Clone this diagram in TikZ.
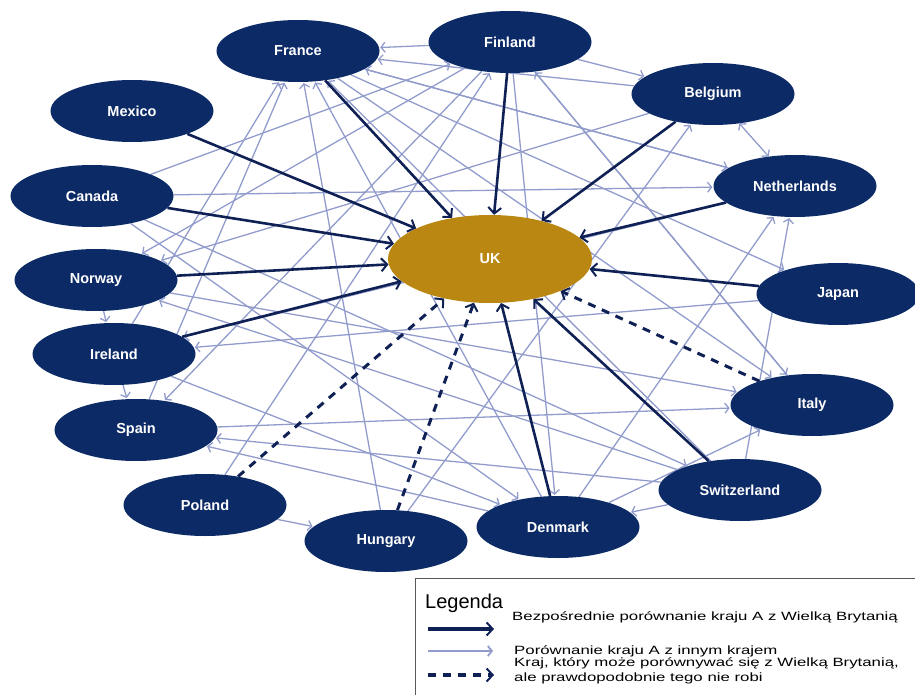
\documentclass[tikz,border=0pt]{standalone}
\usepackage{fontspec}
\setmainfont{Liberation Sans}
\setsansfont{Liberation Sans}
\newfontfamily\legendfont[FakeStretch=1.4]{Liberation Sans}
\usepackage{tikz}
\usetikzlibrary{shapes.geometric, arrows.meta, positioning}
\usepackage{xcolor}
\definecolor{navy}{RGB}{12,42,102}
\definecolor{gold}{RGB}{186,136,18}
\definecolor{lavender}{RGB}{146,156,204}
\definecolor{darkline}{RGB}{15,32,85}
\pgfdeclarelayer{edges}
\pgfsetlayers{edges,main}

\begin{document}
\begin{tikzpicture}[x=1pt, y=-1pt,
    country/.style  = {ellipse, fill=navy, text=white, inner sep=0pt, minimum width=163pt, minimum height=62pt, font=\sffamily\bfseries\fontsize{14.5}{17}\selectfont},
    hub/.style      = {ellipse, fill=gold, text=white, inner sep=0pt, minimum width=204pt, minimum height=88pt, font=\sffamily\bfseries\fontsize{14.5}{17}\selectfont},
    direct/.style   = {draw=darkline, line width=2.6pt, -{Straight Barb[length=6pt, width=13pt, line width=2pt]}},
    compare/.style  = {draw=lavender, line width=1.3pt, shorten >=1pt, -{Straight Barb[length=4pt, width=10pt]}},
    twoway/.style   = {draw=lavender, line width=1.3pt, {Straight Barb[length=4pt, width=10pt]}-{Straight Barb[length=4pt, width=10pt]}},
    possible/.style = {draw=darkline, line width=3pt, dash pattern=on 8pt off 7pt, -{Straight Barb[length=6pt, width=13pt, line width=2pt]}},
    legtext/.style  = {anchor=west, inner sep=0pt, font=\legendfont\fontsize{12}{14.5}\selectfont, align=left}
]
\useasboundingbox (0,0) rectangle (915,695);

% Centre
\node (uk) [hub] at (490,259) {UK};

% Countries, clockwise from the top
\node (france)      [country] at (298,51)  {France};
\node (finland)     [country] at (510,42)  {Finland};
\node (belgium)     [country] at (713,94)  {Belgium};
\node (netherlands) [country] at (795,186) {Netherlands};
\node (japan)       [country] at (838,294) {Japan};
\node (italy)       [country] at (812,405) {Italy};
\node (switzerland) [country] at (740,490) {Switzerland};
\node (denmark)     [country] at (558,527) {Denmark};
\node (hungary)     [country] at (386,541) {Hungary};
\node (poland)      [country] at (205,505) {Poland};
\node (spain)       [country] at (136,430) {Spain};
\node (ireland)     [country] at (114,354) {Ireland};
\node (norway)      [country] at (96,280)  {Norway};
\node (canada)      [country] at (92,196)  {Canada};
\node (mexico)      [country] at (132,111) {Mexico};

\begin{pgfonlayer}{edges}
% Comparisons between other countries
\draw [compare] (finland) -- (france);
\draw [compare] (finland) -- (belgium);
\draw [twoway]  (belgium) -- (netherlands);
\draw [compare] (norway) -- (ireland);
\draw [compare] (ireland) -- (spain);
\draw [compare] (poland) -- (hungary);
\draw [compare] (switzerland) -- (denmark);
\draw [compare] (ireland) -- (france);
\draw [compare] (spain) -- (france);
\draw [compare] (hungary) -- (france);
\draw [compare] (denmark) -- (france);
\draw [compare] (switzerland) -- (france);
\draw [compare] (netherlands) -- (france);
\draw [compare] (belgium) -- (france);
\draw [compare] (canada) -- (finland);
\draw [compare] (poland) -- (finland);
\draw [compare] (italy) -- (finland);
\draw [compare] (finland) -- (norway);
\draw [compare] (belgium) -- (norway);
\draw [compare] (finland) -- (spain);
\draw [compare] (netherlands) -- (ireland);
\draw [compare] (japan) -- (ireland);
\draw [compare] (switzerland) -- (norway);
\draw [compare] (denmark) -- (spain);
\draw [compare] (switzerland) -- (spain);
\draw [compare] (spain) -- (italy);
\draw [compare] (norway) -- (italy);
\draw [compare] (france) -- (italy);
\draw [compare] (finland) -- (italy);
\draw [compare] (denmark) -- (italy);
\draw [compare] (canada) -- (denmark);
\draw [compare] (ireland) -- (denmark);
\draw [compare] (finland) -- (denmark);
\draw [compare] (canada) -- (switzerland);
\draw [compare] (denmark) -- (netherlands);
\draw [compare] (switzerland) -- (netherlands);
\draw [compare] (france) -- (netherlands);
\draw [compare] (canada) -- (netherlands);
\draw [compare] (hungary) -- (belgium);
\draw [compare] (france) -- (japan);

% Direct comparisons with the UK
\draw [direct] (mexico) -- (uk);
\draw [direct] (france) -- (uk);
\draw [direct] (finland) -- (uk);
\draw [direct] (belgium) -- (uk);
\draw [direct] (netherlands) -- (uk);
\draw [direct] (japan) -- (uk);
\draw [direct] (canada) -- (uk);
\draw [direct] (norway) -- (uk);
\draw [direct] (ireland) -- (uk);
\draw [direct] (denmark) -- (uk);
\draw [direct] (switzerland) -- (uk);

% Possible, probably unused
\draw [possible] (poland) -- (uk);
\draw [possible] (hungary) -- (uk);
\draw [possible] (italy) -- (uk);
\end{pgfonlayer}

% Legend
\coordinate (legtr) at (915,578);
\coordinate (legbl) at (415,695);
\draw [gray!70!black, line width=1pt] (legtr) -| (legbl);
\node (legtitle) [anchor=base west, inner sep=0pt, font=\fontsize{20}{22}\selectfont] at (425,608) {Legenda};

\coordinate (k1a) at (428,629); \coordinate (k1b) at (494,629);
\coordinate (k2a) at (428,651); \coordinate (k2b) at (494,651);
\coordinate (k3a) at (428,675); \coordinate (k3b) at (494,675);
\draw [direct, line width=3.2pt] (k1a) -- (k1b);
\draw [compare, line width=1.8pt] (k2a) -- (k2b);
\draw [possible, line width=3.4pt] (k3a) -- (k3b);

\node (keydirect)   [legtext] at (512,617) {Bezpośrednie porównanie kraju A z Wielką Brytanią};
\node (keycompare)  [legtext] at (514,651) {Porównanie kraju A z innym krajem};
\node (keypossible) [legtext, below=1pt of keycompare.south west, anchor=north west] {Kraj, który może porównywać się z Wielką Brytanią,\\ale prawdopodobnie tego nie robi};

\end{tikzpicture}
\end{document}
